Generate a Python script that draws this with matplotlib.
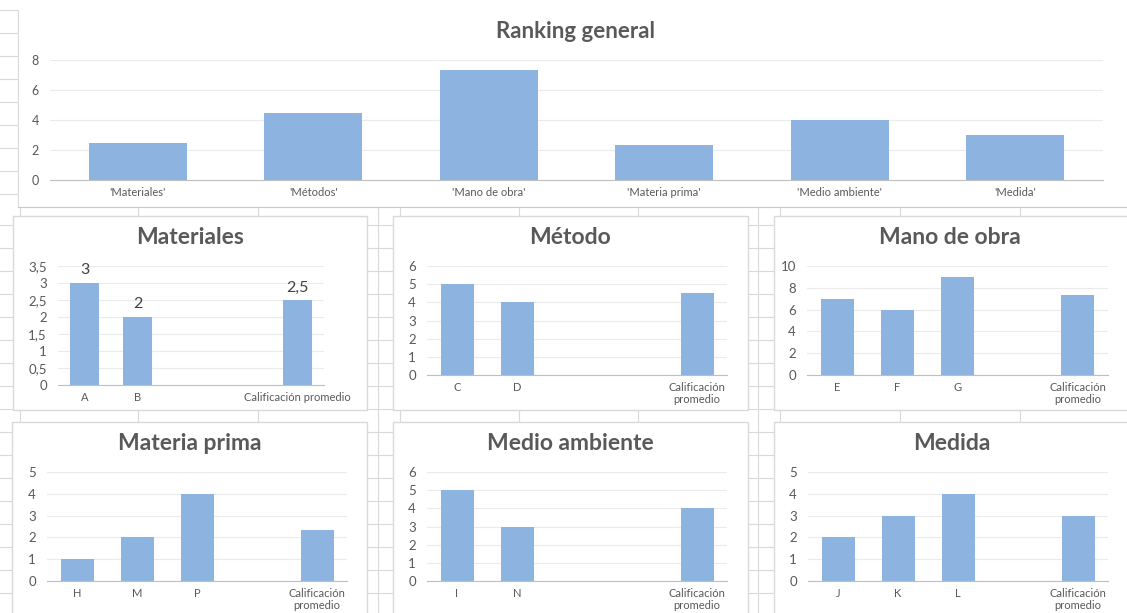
import numpy as np
import matplotlib.pyplot as plt
from matplotlib.lines import Line2D
from matplotlib.patches import Rectangle
from matplotlib.ticker import FuncFormatter, MultipleLocator

plt.rcParams['font.family'] = ['Lato', 'DejaVu Sans']

# ---------------- data ----------------
rank_cats = ["'Materiales'", "'Métodos'", "'Mano de obra'", "'Materia prima'",
             "'Medio ambiente'", "'Medida'"]
rank_vals = [2.5, 4.5, 7.33, 2.33, 4.0, 3.0]

mat_cats = ['A', 'B', '', '', 'Calificación promedio']
mat_vals = [3, 2, None, None, 2.5]

met_cats = ['C', 'D', '', '', 'Calificación\npromedio']
met_vals = [5, 4, None, None, 4.5]

mano_cats = ['E', 'F', 'G', '', 'Calificación\npromedio']
mano_vals = [7, 6, 9, None, 7.33]

prima_cats = ['H', 'M', 'P', '', 'Calificación\npromedio']
prima_vals = [1, 2, 4, None, 2.33]

amb_cats = ['I', 'N', '', '', 'Calificación\npromedio']
amb_vals = [5, 3, None, None, 4]

med_cats = ['J', 'K', 'L', '', 'Calificación\npromedio']
med_vals = [2, 3, 4, None, 3]

# ---------------- style ----------------
BAR = '#8db4e0'
TXT = '#595959'
GRID = '#ebebeb'
SHEET = '#d9d9d9'

W, H = 1127, 613
fig = plt.figure(figsize=(W / 100, H / 100), dpi=100)


def px_ax(x0, y0, x1, y1):
    ax = fig.add_axes([x0 / W, 1 - y1 / H, (x1 - x0) / W, (y1 - y0) / H])
    ax.set_zorder(3)
    return ax


def hline(y, x0, x1, c=SHEET, lw=0.8):
    fig.add_artist(Line2D([x0 / W, x1 / W], [1 - y / H, 1 - y / H], color=c, lw=lw,
                          transform=fig.transFigure, zorder=0))


def vline(x, y0, y1, c=SHEET, lw=0.8):
    fig.add_artist(Line2D([x / W, x / W], [1 - y0 / H, 1 - y1 / H], color=c, lw=lw,
                          transform=fig.transFigure, zorder=0))


def box(x0, y0, x1, y1, edge=SHEET):
    fig.add_artist(Rectangle((x0 / W, 1 - y1 / H), (x1 - x0) / W, (y1 - y0) / H,
                             facecolor='white', edgecolor=edge, lw=1.0,
                             transform=fig.transFigure, zorder=1))


comma = FuncFormatter(lambda v, p: f'{v:g}'.replace('.', ','))

# ---------------- spreadsheet grid behind the charts ----------------
for y in np.arange(10, 207, 23):
    hline(y, 0, 17)
for y in np.arange(225, 613, 23):
    hline(y, 0, W)
for x in [20, 138, 258, 378, 400, 519, 638, 758, 780, 900, 1020]:
    vline(x, 207, H)
vline(18, 10, 207)
hline(207, 18, W, c='#c8c8c8')


def style_axes(ax, ymax, step, tick_fs, x_fs):
    ax.set_ylim(0, ymax)
    ax.yaxis.set_major_locator(MultipleLocator(step))
    ax.yaxis.set_major_formatter(comma)
    ax.grid(axis='y', color=GRID, lw=0.8)
    ax.set_axisbelow(True)
    for s in ['top', 'right', 'left']:
        ax.spines[s].set_visible(False)
    ax.spines['bottom'].set_color('#bfbfbf')
    ax.tick_params(axis='y', length=0, labelsize=tick_fs, labelcolor=TXT, pad=8)
    ax.tick_params(axis='x', length=0, labelsize=x_fs, labelcolor=TXT, pad=5)
    ax.patch.set_alpha(0)


def small_chart(rect, cats, vals, ymax, step, title, title_xy, labels=False):
    ax = px_ax(*rect)
    pos = np.arange(len(cats))
    for i, v in enumerate(vals):
        if v is None:
            continue
        ax.bar(pos[i], v, width=0.55, color=BAR, zorder=2)
        if labels:
            ax.annotate(f'{v:g}'.replace('.', ','), (pos[i], v), xytext=(0, 4),
                        textcoords='offset points', ha='center', va='bottom',
                        fontsize=11.5, color='#404040')
    ax.set_xlim(-0.5, len(cats) - 0.5)
    ax.set_xticks(pos)
    ax.set_xticklabels(cats, linespacing=1.1)
    style_axes(ax, ymax, step, 9.5, 8)
    fig.text(title_xy[0] / W, 1 - title_xy[1] / H, title, ha='center', va='center',
             fontsize=16.5, fontweight='bold', color=TXT, zorder=5)
    return ax


# ---------------- top chart: Ranking general ----------------
box(19, -2, W + 2, 206, edge='none')
ax0 = px_ax(50, 60, 1103, 180)
x0 = np.arange(len(rank_cats))
ax0.bar(x0, rank_vals, width=0.56, color=BAR, zorder=2)
ax0.set_xlim(-0.5, len(rank_cats) - 0.5)
ax0.set_xticks(x0)
ax0.set_xticklabels(rank_cats)
style_axes(ax0, 8, 2, 9, 8)
fig.text(575 / W, 1 - 32 / H, 'Ranking general', ha='center', va='center',
         fontsize=16, fontweight='bold', color=TXT)

# ---------------- small charts ----------------
box(13, 216, 367, 410)
box(393, 216, 748, 410)
box(774, 216, W + 5, 410)
box(12, 422, 367, H + 5)
box(393, 422, 748, H + 5)
box(774, 422, W + 5, H + 5)

small_chart((58, 266, 324, 385), mat_cats, mat_vals, 3.5, 0.5, 'Materiales', (190, 238), labels=True)
small_chart((427, 266, 727, 375), met_cats, met_vals, 6, 1, 'Método', (570, 238))
small_chart((807, 266, 1108, 375), mano_cats, mano_vals, 10, 2, 'Mano de obra', (950, 238))
small_chart((47, 472, 347, 581), prima_cats, prima_vals, 5, 1, 'Materia prima', (190, 443))
small_chart((427, 472, 727, 581), amb_cats, amb_vals, 6, 1, 'Medio ambiente', (570, 443))
small_chart((808, 472, 1108, 581), med_cats, med_vals, 5, 1, 'Medida', (952, 443))

fig.savefig('out.png', dpi=100)
